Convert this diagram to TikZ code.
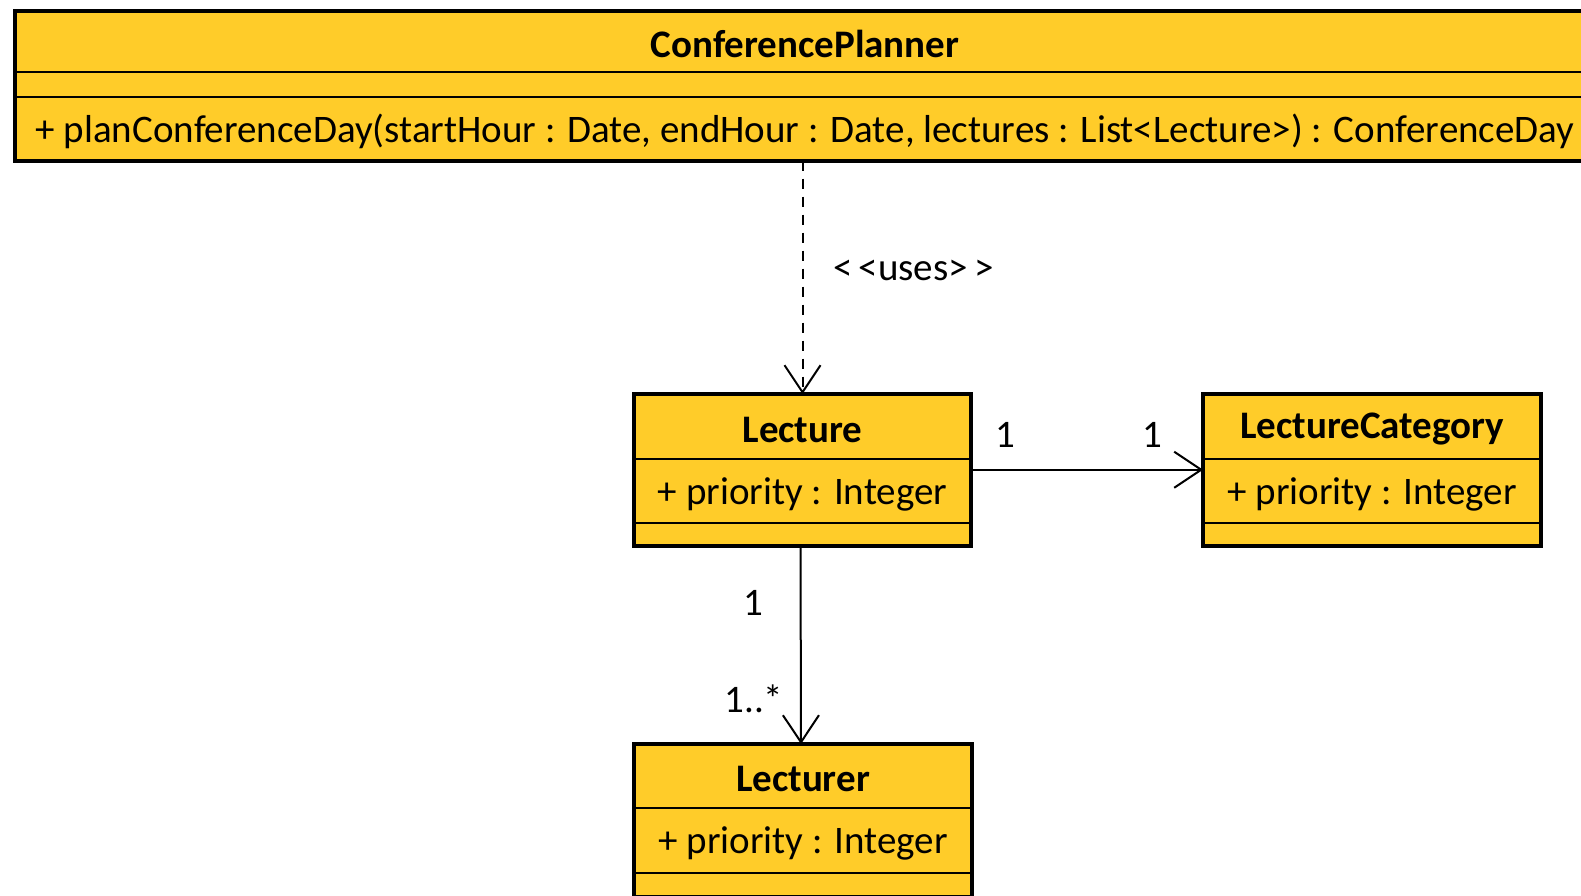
\documentclass[tikz,border=0pt]{standalone}
\usepackage{fontspec}
\setmainfont{Carlito}
\usetikzlibrary{shapes.multipart,arrows.meta}

\definecolor{classyellow}{RGB}{255,204,41}
\newcommand{\comp}[2]{\vbox to #1pt{\vfil\hbox{#2}\vfil\vskip-6pt}}

\begin{document}
\begin{tikzpicture}
  [x=1pt,y=-1pt,
   every node/.style={font=\fontsize{39}{45}\selectfont},
   umlclass/.style={rectangle split,rectangle split parts=3,draw,line width=2pt,
     fill=classyellow,inner sep=0pt,outer sep=0pt,anchor=north west},
   assoc/.style={line width=2pt,-{Straight Barb[length=27pt,width=36pt,line width=2pt]}},
   mult/.style={inner sep=0pt}]
  \clip (0,0) rectangle (1581,895);

  \node[umlclass,minimum width=1581pt] (planner) at (14.5,10.5)
    {\comp{59.5}{\bfseries ConferencePlanner}
     \nodepart{two}\comp{23}{}
     \nodepart{three}\comp{61.5}{+ planConferenceDay(startHour : Date, endHour : Date, lectures : List<Lecture>) : ConferenceDay}};
  \node[umlclass,minimum width=337pt] (lecture) at (634,394)
    {\comp{63}{\bfseries Lecture}
     \nodepart{two}\comp{62}{+ priority : Integer}
     \nodepart{three}\comp{20.5}{}};
  \node[umlclass,minimum width=338pt] (category) at (1203,394)
    {\comp{63}{\bfseries LectureCategory}
     \nodepart{two}\comp{62}{+ priority : Integer}
     \nodepart{three}\comp{20.5}{}};
  \node[umlclass,minimum width=338pt] (lecturer) at (634,744)
    {\comp{62}{\bfseries Lecturer}
     \nodepart{two}\comp{63}{+ priority : Integer}
     \nodepart{three}\comp{22}{}};

  \foreach \n in {planner,lecture,category,lecturer}
    \draw [line width=4pt] (\n.north west) rectangle (\n.south east);

  \draw [assoc,dash pattern=on 10pt off 8pt] (lecture.north |- planner.south) --
    node[mult,pos=0.46,xshift=111pt,yshift=-3pt] {<\kern6pt<uses>\kern6pt>} (lecture.north);
  \draw [assoc] (lecture.east) --
    node[mult,pos=0.15,yshift=35pt] {1}
    node[mult,pos=0.78,yshift=35pt] {1} (category.west);
  \draw [assoc] ([xshift=-2pt]lecture.south) --
    node[mult,pos=0.29,xshift=-47pt] {1}
    node[mult,pos=0.77,xshift=-47pt] {1..*} ([xshift=-2pt]lecturer.north);
\end{tikzpicture}
\end{document}
